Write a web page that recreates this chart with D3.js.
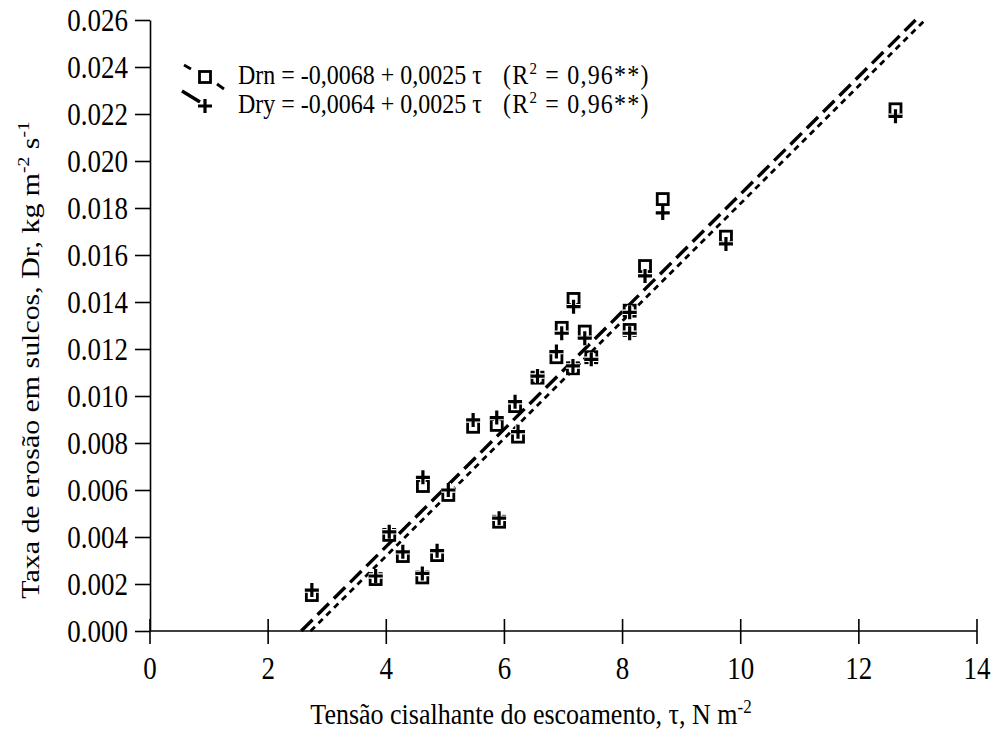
<!DOCTYPE html>
<html>
<head>
<meta charset="utf-8">
<script src="https://cdn.jsdelivr.net/npm/d3@7"></script>
<style>
  html, body { margin: 0; padding: 0; background: #fff; }
  svg { display: block; }
  text { font-family: "Liberation Serif", "Times New Roman", Times, serif; fill: #000; }
</style>
</head>
<body>
<svg id="chart" width="995" height="740"></svg>
<script>
// Shear stress (tau, N m-2) and rill erosion rates (kg m-2 s-1)
const tau = [2.74, 3.82, 4.05, 4.28, 4.61, 4.86, 4.62, 5.05, 5.91, 5.47, 5.87, 6.23, 6.18,
             6.56, 6.88, 7.16, 6.97, 7.17, 7.36, 7.47, 8.12, 8.12, 8.38, 8.68, 9.75, 12.62];
const drn = [0.00153, 0.00221, 0.00409, 0.00319, 0.00228, 0.00323, 0.00617, 0.00579, 0.00465,
             0.00869, 0.00877, 0.00827, 0.00957, 0.01078, 0.01165, 0.01118, 0.01290, 0.01413,
             0.01274, 0.01165, 0.01281, 0.01363, 0.01553, 0.01838, 0.01678, 0.02220];
const dry = [0.00174, 0.00234, 0.00422, 0.00337, 0.00245, 0.00342, 0.00654, 0.00600, 0.00480,
             0.00898, 0.00908, 0.00848, 0.00976, 0.01085, 0.01189, 0.01128, 0.01267, 0.01380,
             0.01246, 0.01156, 0.01267, 0.01356, 0.01511, 0.01779, 0.01647, 0.02190];

// Fitted linear models: Dr = a + b * tau
const fitDrn = { a: -0.0068, b: 0.0025 };
const fitDry = { a: -0.0064, b: 0.0025 };

const xTicks = [0, 2, 4, 6, 8, 10, 12, 14];
const yTicks = [0, 0.002, 0.004, 0.006, 0.008, 0.010, 0.012, 0.014, 0.016, 0.018, 0.020, 0.022, 0.024, 0.026];

const FONT = "'Liberation Serif', 'Times New Roman', Times, serif";
const STRETCH = 1.15;   // glyphs are a little taller than they are wide

const svg = d3.select("#chart");
const x = d3.scaleLinear().domain([0, 14]).range([150, 977]);
const y = d3.scaleLinear().domain([0, 0.026]).range([631, 20]);

// text placed at (tx, ty) baseline, stretched vertically
function label(parent, tx, ty, size, anchor) {
  return parent.append("text")
    .attr("transform", `translate(${tx},${ty}) scale(1,${STRETCH})`)
    .attr("text-anchor", anchor || "start")
    .attr("font-family", FONT)
    .style("font-size", size + "px");
}

// Y axis
const yAxis = svg.append("g")
  .attr("transform", `translate(${x(0)},0)`)
  .call(d3.axisLeft(y).tickValues(yTicks).tickFormat("")
        .tickSizeInner(15).tickSizeOuter(0));
yAxis.select(".domain").attr("stroke", "#000").attr("stroke-width", 1.6);
yAxis.selectAll(".tick line").attr("stroke", "#000").attr("stroke-width", 1.6);
yAxis.selectAll(".tick text").remove();
const fmtY = d3.format(".3f");
yTicks.forEach(d => label(svg, 128, y(d) + 9.5 * STRETCH, 27, "end").text(fmtY(d)));

// X axis with ticks crossing the baseline
const xAxis = svg.append("g").attr("transform", `translate(0,${y(0)})`);
xAxis.append("line").attr("x1", x(0)).attr("x2", x(14))
  .attr("stroke", "#000").attr("stroke-width", 1.6);
xAxis.selectAll("line.xt").data(xTicks).enter().append("line")
  .attr("x1", d => x(d)).attr("x2", d => x(d)).attr("y1", -12).attr("y2", 13)
  .attr("stroke", "#000").attr("stroke-width", 1.6);
xTicks.forEach(d => label(svg, x(d), 679, 27, "middle").text(d));

// Axis titles
const xTitle = label(svg, 531, 724, 26, "middle");
xTitle.append("tspan").text("Tensão cisalhante do escoamento, τ, N m");
xTitle.append("tspan").attr("dy", -10).style("font-size", "17px").text("-2");

const yTitle = svg.append("text")
  .attr("transform", `translate(39,360) rotate(-90) scale(${STRETCH},1)`)
  .attr("text-anchor", "middle").attr("font-family", FONT).style("font-size", "26px");
yTitle.append("tspan").text("Taxa de erosão em sulcos, Dr, kg m");
yTitle.append("tspan").attr("dy", -10).style("font-size", "17px").text("-2");
yTitle.append("tspan").attr("dy", 10).text(" s");
yTitle.append("tspan").attr("dy", -10).style("font-size", "17px").text("-1");

// Trend lines, drawn from Dr = 0 up to the top of the axis
function fitLine(f) {
  const t0 = (0 - f.a) / f.b, t1 = (0.026 - f.a) / f.b;
  return [[t0, 0], [t1, 0.026]];
}
const line = d3.line().x(d => x(d[0])).y(d => y(d[1]));
svg.append("path").attr("d", line(fitLine(fitDry)))
  .attr("fill", "none").attr("stroke", "#000").attr("stroke-width", 3.4)
  .attr("stroke-dasharray", "16,7");
svg.append("path").attr("d", line(fitLine(fitDrn)))
  .attr("fill", "none").attr("stroke", "#000").attr("stroke-width", 2.8)
  .attr("stroke-dasharray", "6,5");

// Markers
const sq = 11, pl = 7;
function square(g, cx, cy) {
  g.append("rect").attr("x", cx - sq / 2).attr("y", cy - sq / 2)
    .attr("width", sq).attr("height", sq)
    .attr("fill", "#fff").attr("stroke", "#000").attr("stroke-width", 2.8);
}
function plus(g, cx, cy) {
  const p = `M${cx - pl},${cy}H${cx + pl}M${cx},${cy - pl}V${cy + pl}`;
  g.append("path").attr("d", p).attr("stroke", "#fff").attr("stroke-width", 5.5);
  g.append("path").attr("d", p).attr("stroke", "#000").attr("stroke-width", 3.2);
}
const gDrn = svg.append("g");
tau.forEach((t, i) => square(gDrn, x(t), y(drn[i])));
const gDry = svg.append("g");
tau.forEach((t, i) => plus(gDry, x(t), y(dry[i])));

// Legend
const lg = svg.append("g");
lg.append("line").attr("x1", 184).attr("y1", 65).attr("x2", 191).attr("y2", 69)
  .attr("stroke", "#000").attr("stroke-width", 2.8);
lg.append("line").attr("x1", 217).attr("y1", 84).attr("x2", 224).attr("y2", 89)
  .attr("stroke", "#000").attr("stroke-width", 2.8);
square(lg, 205, 77);
lg.append("line").attr("x1", 182).attr("y1", 91).attr("x2", 200).attr("y2", 102)
  .attr("stroke", "#000").attr("stroke-width", 3.4);
plus(lg, 205, 106);

function legendText(yy, eq) {
  const t = label(lg, 238, yy, 24, "start");
  t.append("tspan").text(eq);
  const r = t.append("tspan").attr("x", 265).style("letter-spacing", "1.2px");
  r.append("tspan").text("(R");
  r.append("tspan").attr("dy", -9).style("font-size", "15px").text("2");
  r.append("tspan").attr("dy", 9).text(" = 0,96**)");
}
legendText(84, "Drn = -0,0068 + 0,0025 τ");
legendText(113, "Dry = -0,0064 + 0,0025 τ");
</script>
</body>
</html>
